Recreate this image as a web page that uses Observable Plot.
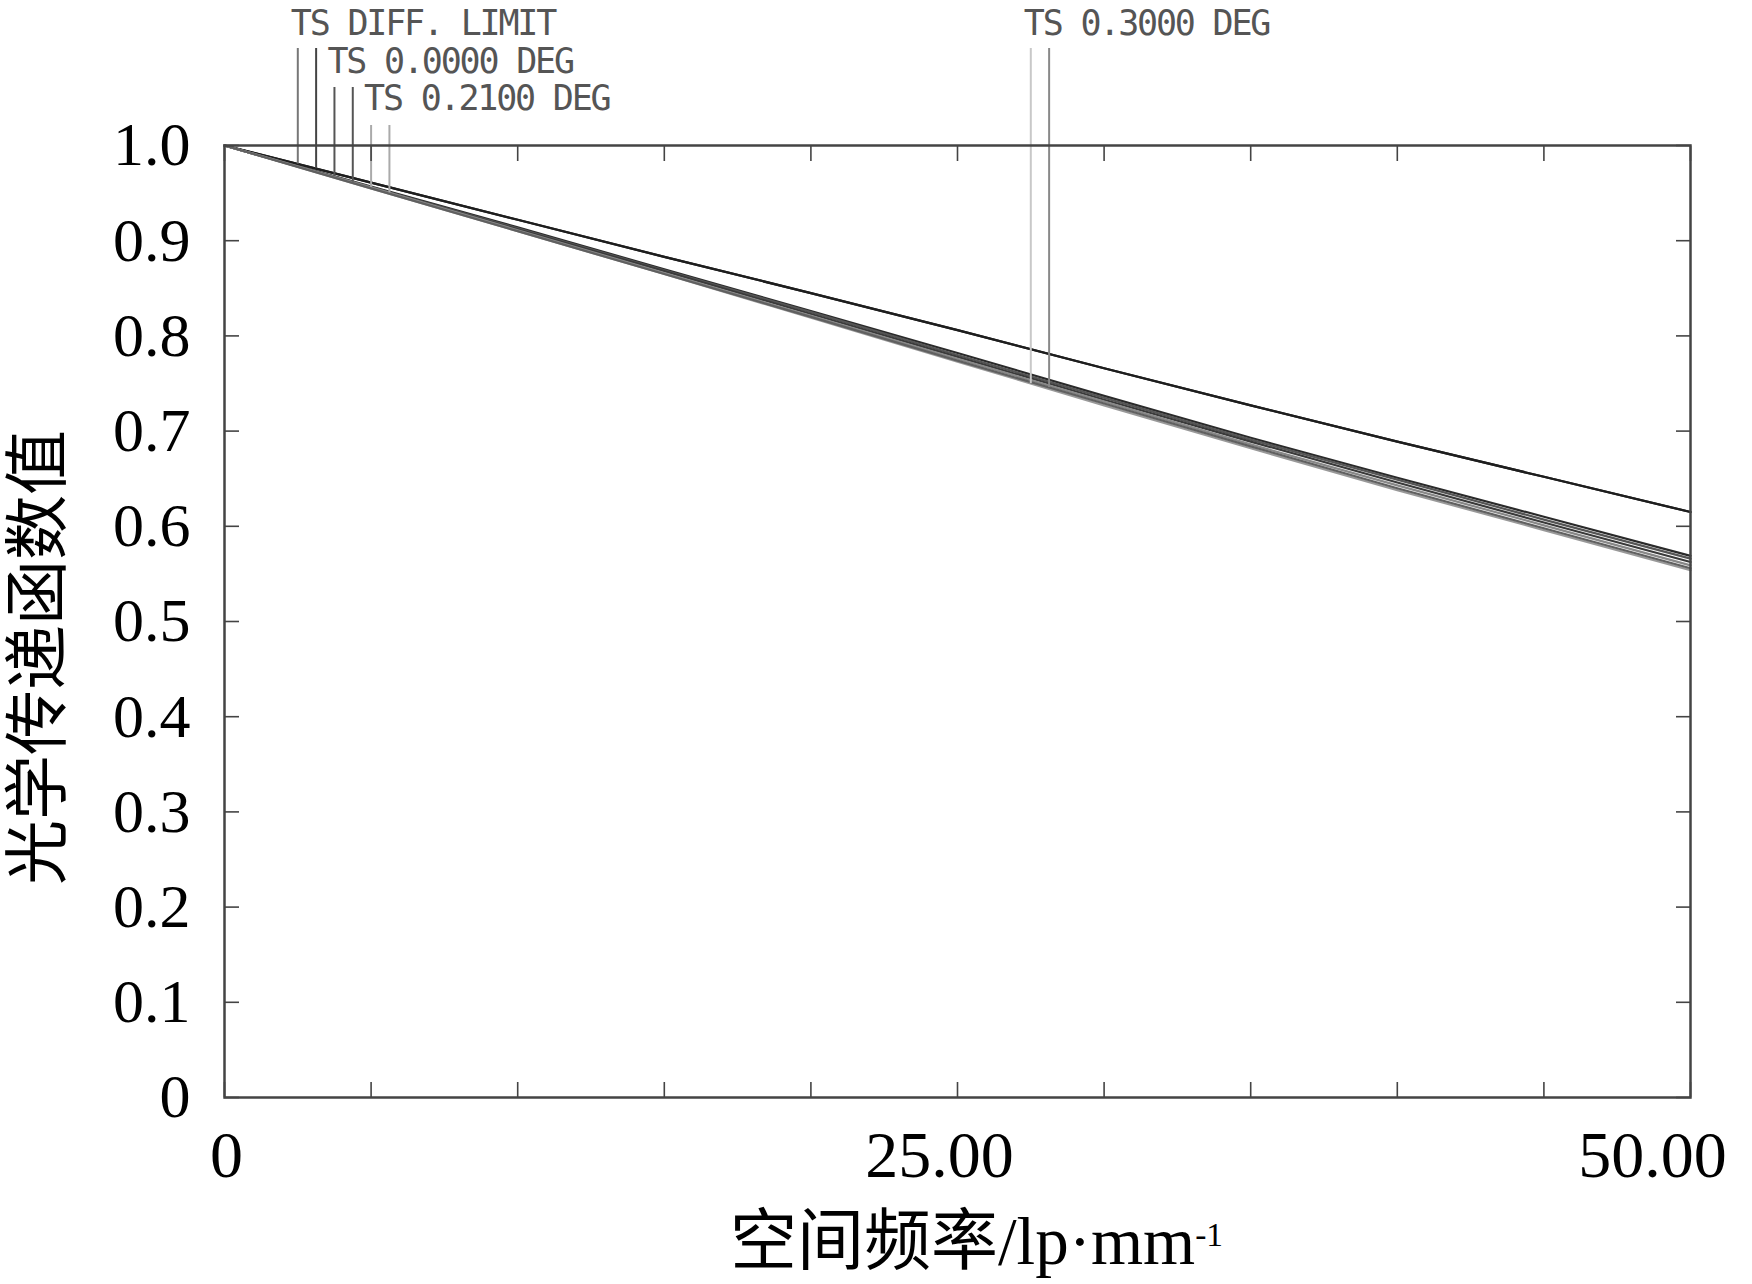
<!DOCTYPE html>
<html>
<head>
<meta charset="utf-8">
<script src="https://cdn.jsdelivr.net/npm/d3@7"></script>
<script src="https://cdn.jsdelivr.net/npm/@observablehq/plot@0.6"></script>
<style>
html, body { margin: 0; padding: 0; background: #fff; }
</style>
</head>
<body>
<div id="chart"></div>
<script>
// ---------- data ----------
const freq = [0, 5, 10, 15, 20, 25, 30, 35, 40, 45, 50];
const diffT  = [1.000, 0.961, 0.922, 0.883, 0.845, 0.806, 0.766, 0.727, 0.689, 0.652, 0.615];
const diffS  = [1.000, 0.961, 0.922, 0.883, 0.845, 0.806, 0.766, 0.727, 0.689, 0.652, 0.615];
const deg0T  = [1.000, 0.957, 0.914, 0.870, 0.826, 0.782, 0.737, 0.693, 0.651, 0.610, 0.569];
const deg0S  = [1.000, 0.956, 0.913, 0.869, 0.825, 0.780, 0.735, 0.691, 0.649, 0.607, 0.566];
const deg21T = [1.000, 0.956, 0.912, 0.868, 0.823, 0.778, 0.733, 0.689, 0.646, 0.604, 0.5625];
const deg21S = [1.000, 0.956, 0.911, 0.866, 0.821, 0.776, 0.731, 0.686, 0.643, 0.601, 0.559];
const deg30T = [1.000, 0.955, 0.910, 0.865, 0.819, 0.773, 0.727, 0.682, 0.638, 0.596, 0.554];
const deg30S = [1.000, 0.955, 0.910, 0.865, 0.820, 0.774, 0.729, 0.684, 0.640, 0.598, 0.556];

const seriesNames = ["diffT", "diffS", "deg0T", "deg0S", "deg21T", "deg21S", "deg30T", "deg30S"];
const seriesValues = [diffT, diffS, deg0T, deg0S, deg21T, deg21S, deg30T, deg30S];

// field labels and the frequency where each leader line meets its curve
const labelTexts = ["TS DIFF. LIMIT", "TS 0.0000 DEG", "TS 0.2100 DEG", "TS 0.3000 DEG"];
const leaderFreq = [2.5, 3.125, 3.75, 4.375, 5.0, 5.625, 27.5, 28.125];
const leaderLabel = [0, 0, 1, 1, 2, 2, 3, 3];

const yTicks = [0, 0.1, 0.2, 0.3, 0.4, 0.5, 0.6, 0.7, 0.8, 0.9, 1.0];
const xTicks = [0, 5, 10, 15, 20, 25, 30, 35, 40, 45, 50];
const xLabelTicks = [0, 25, 50];
const xLabelTexts = ["0", "25.00", "50.00"];
const yTitle = "光学传递函数值";
const xTitle = "空间频率/lp·mm";
const xTitleSup = "-1";

// ---------- layout & style ----------
const W = 1752, H = 1284;
const M = {top: 145, right: 62, bottom: 187, left: 224};
const seriesColor = ["#1e1e1e", "#1e1e1e", "#2a2a2a", "#555", "#3a3a3a", "#888", "#999", "#606060"];
const leaderColor = ["#777", "#444", "#555", "#555", "#aaa", "#aaa", "#c8c8c8", "#888"];
const labelRow = [0, 1, 2, 0];           // row of each label
const rowTextCenterPx = [23, 61, 98];   // text center (px) per row
const rowLeaderTopPx = [48, 87, 125];   // top of leader (px) per row
const xLabelDx = [2, -18, -38];

const serif = "'Liberation Serif', 'Times New Roman', serif";
const cjk = "'Liberation Serif', 'Noto Sans CJK SC', serif";
const mono = "'DejaVu Sans Mono', monospace";

// ---------- derived tables ----------
const rows = [];
seriesNames.forEach((s, k) => freq.forEach((f, i) => rows.push({series: s, freq: f, mtf: seriesValues[k][i]})));

const interp = (vals, f) => {
  for (let i = 0; i < freq.length - 1; i++) {
    if (f >= freq[i] && f <= freq[i + 1]) {
      const t = (f - freq[i]) / (freq[i + 1] - freq[i]);
      return vals[i] + t * (vals[i + 1] - vals[i]);
    }
  }
  return vals[vals.length - 1];
};

const yScale = Plot.scale({y: {domain: [0, 1], range: [H - M.bottom, M.top]}});

const leaders = leaderFreq.map((f, i) => ({
  freq: f,
  yEnd: interp(seriesValues[i], f),
  yTop: yScale.invert(rowLeaderTopPx[labelRow[leaderLabel[i]]]),
  color: leaderColor[i]
}));

const labels = labelTexts.map((t, j) => ({
  text: t,
  freq: leaderFreq[leaderLabel.indexOf(j)],
  y: yScale.invert(rowTextCenterPx[labelRow[j]])
}));

const marks = [];

// curves
seriesNames.forEach((s, k) => {
  marks.push(Plot.line(rows.filter(d => d.series === s), {
    x: "freq", y: "mtf", stroke: seriesColor[k], strokeWidth: 2.2, curve: "linear"
  }));
});

// leader lines
leaders.forEach(d => {
  marks.push(Plot.ruleX([d], {x: "freq", y1: "yEnd", y2: "yTop", stroke: d.color, strokeWidth: 2, clip: false}));
});

// labels
marks.push(Plot.text(labels, {
  x: "freq", y: "y", text: "text", textAnchor: "start", lineAnchor: "middle", dx: -7,
  fontFamily: mono, fontSize: 35, fill: "#555", clip: false
}));

// inward ticks on all four sides
marks.push(Plot.axisY({ticks: yTicks, anchor: "left", tickSize: 15, dx: 15, tickFormat: () => "", label: null, stroke: "#444", strokeWidth: 1.6}));
marks.push(Plot.axisY({ticks: yTicks, anchor: "right", tickSize: 15, dx: -15, tickFormat: () => "", label: null, stroke: "#444", strokeWidth: 1.6}));
marks.push(Plot.axisX({ticks: xTicks, anchor: "bottom", tickSize: 15, dy: -15, tickFormat: () => "", label: null, stroke: "#444", strokeWidth: 1.6}));
marks.push(Plot.axisX({ticks: xTicks, anchor: "top", tickSize: 15, dy: 15, tickFormat: () => "", label: null, stroke: "#444", strokeWidth: 1.6}));

// y tick labels
marks.push(Plot.axisY({
  ticks: yTicks, anchor: "left", tickSize: 0, tickPadding: 34, label: null,
  tickFormat: d => d === 0 ? "0" : d.toFixed(1), fontSize: 62, fontFamily: serif, fill: "#000"
}));

// x tick labels
xLabelTicks.forEach((t, i) => {
  marks.push(Plot.text([t], {
    x: d => d, text: () => xLabelTexts[i], frameAnchor: "bottom", lineAnchor: "middle",
    dy: 58, dx: xLabelDx[i], fontSize: 66, fontFamily: serif, fill: "#000", clip: false
  }));
});

// frame
marks.push(Plot.frame({stroke: "#444", strokeWidth: 2.5}));

// axis titles
marks.push(Plot.text([xTitle], {
  text: d => d, frameAnchor: "bottom", textAnchor: "middle", lineAnchor: "middle", dy: 145, dx: 19,
  fontSize: 67, fontFamily: cjk, fill: "#000"
}));
marks.push(Plot.text([yTitle], {
  text: d => d, frameAnchor: "left", textAnchor: "middle", lineAnchor: "middle", rotate: -90, dx: -185, dy: 36,
  fontSize: 65, fontFamily: cjk, fill: "#000"
}));

const chart = Plot.plot({
  width: W, height: H,
  marginTop: M.top, marginRight: M.right, marginBottom: M.bottom, marginLeft: M.left,
  x: {domain: [0, 50]},
  y: {domain: [0, 1]},
  style: {background: "#fff", overflow: "visible"},
  marks
});

document.getElementById("chart").appendChild(chart);

const allText = d3.select(chart).selectAll("text");
// condense the monospace labels a bit, like the original plotter font
allText.filter(function () { return labelTexts.includes(this.textContent); })
  .style("letter-spacing", "-2.2px");
// superscript on the x title
allText.filter(function () { return this.textContent === xTitle; })
  .append("tspan").attr("dy", "-0.55em").attr("font-size", "0.5em").text(xTitleSup);
</script>
</body>
</html>
